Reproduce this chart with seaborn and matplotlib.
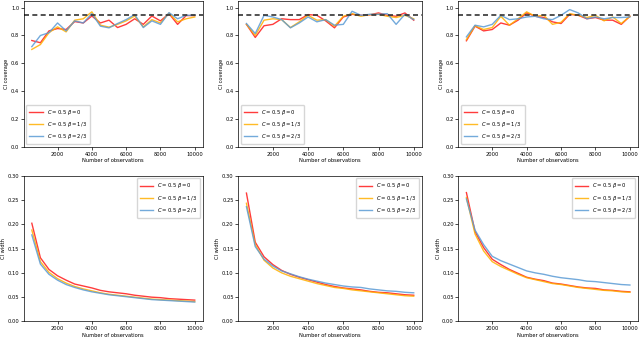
import numpy as np
import pandas as pd
import seaborn as sns
import matplotlib
matplotlib.use("Agg")
import matplotlib.pyplot as plt

n_obs = list(range(500, 10001, 500))
labels = [r"$C = 0.5\ \beta = 0$", r"$C = 0.5\ \beta = 1/3$", r"$C = 0.5\ \beta = 2/3$"]

# CI coverage (top row), one list per series
cov1_b0 = [0.764, 0.748, 0.833, 0.850, 0.843, 0.900, 0.890, 0.940, 0.890, 0.910, 0.857, 0.880, 0.920, 0.880, 0.940, 0.905, 0.957, 0.880, 0.943, 0.943]
cov1_b13 = [0.700, 0.735, 0.820, 0.862, 0.826, 0.910, 0.920, 0.970, 0.874, 0.860, 0.880, 0.905, 0.940, 0.862, 0.914, 0.890, 0.960, 0.898, 0.920, 0.933]
cov1_b23 = [0.720, 0.800, 0.820, 0.890, 0.833, 0.905, 0.890, 0.957, 0.867, 0.855, 0.886, 0.914, 0.950, 0.857, 0.905, 0.880, 0.964, 0.920, 0.945, 0.945]

cov2_b0 = [0.880, 0.786, 0.870, 0.880, 0.920, 0.914, 0.914, 0.950, 0.945, 0.905, 0.855, 0.933, 0.952, 0.945, 0.948, 0.962, 0.945, 0.938, 0.962, 0.910]
cov2_b13 = [0.880, 0.800, 0.910, 0.920, 0.914, 0.857, 0.898, 0.945, 0.910, 0.914, 0.867, 0.938, 0.957, 0.938, 0.950, 0.952, 0.938, 0.929, 0.945, 0.920]
cov2_b23 = [0.886, 0.814, 0.945, 0.933, 0.914, 0.855, 0.890, 0.933, 0.898, 0.914, 0.874, 0.880, 0.974, 0.945, 0.952, 0.952, 0.957, 0.880, 0.952, 0.914]

cov3_b0 = [0.762, 0.867, 0.833, 0.843, 0.890, 0.874, 0.910, 0.962, 0.938, 0.929, 0.898, 0.886, 0.952, 0.945, 0.920, 0.929, 0.910, 0.910, 0.880, 0.938]
cov3_b13 = [0.770, 0.870, 0.843, 0.857, 0.938, 0.874, 0.920, 0.970, 0.938, 0.945, 0.880, 0.895, 0.957, 0.945, 0.929, 0.945, 0.905, 0.933, 0.886, 0.938]
cov3_b23 = [0.790, 0.874, 0.862, 0.880, 0.945, 0.914, 0.920, 0.933, 0.938, 0.920, 0.914, 0.945, 0.986, 0.962, 0.920, 0.933, 0.920, 0.929, 0.929, 0.933]

# CI width (bottom row)
wid1_b0 = [0.202, 0.131, 0.107, 0.094, 0.085, 0.077, 0.073, 0.069, 0.064, 0.061, 0.059, 0.057, 0.054, 0.052, 0.050, 0.049, 0.047, 0.046, 0.045, 0.044]
wid1_b13 = [0.188, 0.123, 0.101, 0.088, 0.079, 0.072, 0.067, 0.063, 0.059, 0.056, 0.054, 0.052, 0.050, 0.048, 0.046, 0.045, 0.044, 0.043, 0.042, 0.041]
wid1_b23 = [0.178, 0.118, 0.097, 0.085, 0.076, 0.070, 0.065, 0.061, 0.058, 0.055, 0.053, 0.051, 0.049, 0.047, 0.045, 0.044, 0.043, 0.042, 0.041, 0.040]

wid2_b0 = [0.264, 0.163, 0.133, 0.117, 0.105, 0.097, 0.091, 0.086, 0.081, 0.076, 0.072, 0.069, 0.067, 0.065, 0.062, 0.060, 0.059, 0.057, 0.055, 0.054]
wid2_b13 = [0.243, 0.158, 0.126, 0.110, 0.100, 0.093, 0.088, 0.083, 0.078, 0.074, 0.070, 0.068, 0.065, 0.063, 0.061, 0.059, 0.057, 0.055, 0.053, 0.052]
wid2_b23 = [0.236, 0.154, 0.128, 0.114, 0.104, 0.098, 0.092, 0.087, 0.083, 0.079, 0.076, 0.073, 0.071, 0.070, 0.067, 0.065, 0.063, 0.062, 0.060, 0.059]

wid3_b0 = [0.265, 0.185, 0.152, 0.128, 0.117, 0.107, 0.099, 0.091, 0.087, 0.084, 0.079, 0.077, 0.074, 0.071, 0.069, 0.068, 0.065, 0.064, 0.062, 0.061]
wid3_b13 = [0.255, 0.180, 0.145, 0.123, 0.113, 0.105, 0.097, 0.090, 0.086, 0.082, 0.078, 0.076, 0.073, 0.070, 0.068, 0.066, 0.064, 0.063, 0.061, 0.060]
wid3_b23 = [0.252, 0.188, 0.158, 0.134, 0.125, 0.118, 0.111, 0.104, 0.100, 0.097, 0.093, 0.090, 0.088, 0.086, 0.083, 0.082, 0.080, 0.078, 0.076, 0.075]

coverage = [[cov1_b0, cov1_b13, cov1_b23], [cov2_b0, cov2_b13, cov2_b23], [cov3_b0, cov3_b13, cov3_b23]]
width = [[wid1_b0, wid1_b13, wid1_b23], [wid2_b0, wid2_b13, wid2_b23], [wid3_b0, wid3_b13, wid3_b23]]

palette = dict(zip(labels, ["#ff1a1a", "#ffb000", "#5b9bd5"]))

plt.rcParams["font.size"] = 3.7
plt.rcParams["axes.linewidth"] = 0.5
plt.rcParams["xtick.major.size"] = 2
plt.rcParams["ytick.major.size"] = 2
plt.rcParams["xtick.major.width"] = 0.5
plt.rcParams["ytick.major.width"] = 0.5
plt.rcParams["xtick.major.pad"] = 1.5
plt.rcParams["ytick.major.pad"] = 1.2
plt.rcParams["axes.labelpad"] = 1.0


def to_long(series):
    rows = []
    for lab, vals in zip(labels, series):
        for n, v in zip(n_obs, vals):
            rows.append({"n": n, "value": v, "setting": lab})
    return pd.DataFrame(rows)


fig = plt.figure(figsize=(6.4, 3.37), dpi=100)
lefts = [0.037, 0.372, 0.716]
widths = [0.280, 0.2875, 0.281]
leg_kw = dict(fontsize=3.8, handlelength=2.5, borderpad=0.6, labelspacing=0.6)

for i in range(3):
    # coverage
    ax = fig.add_axes([lefts[i], 0.564, widths[i], 0.434])
    sns.lineplot(data=to_long(coverage[i]), x="n", y="value", hue="setting",
                 palette=palette, ax=ax, linewidth=1.0, alpha=0.85)
    ax.axhline(0.95, color="#333333", linestyle="--", linewidth=1.2, dashes=(3, 2))
    ax.set_ylim(0, 1.05)
    ax.set_xticks([2000, 4000, 6000, 8000, 10000])
    ax.set_xlabel("Number of observations")
    ax.set_ylabel("CI coverage")
    ax.legend(loc="lower left", **leg_kw)

    # width
    ax = fig.add_axes([lefts[i], 0.046, widths[i], 0.433])
    sns.lineplot(data=to_long(width[i]), x="n", y="value", hue="setting",
                 palette=palette, ax=ax, linewidth=1.0, alpha=0.85)
    ax.set_ylim(0, 0.30)
    ax.set_yticks([0.0, 0.05, 0.10, 0.15, 0.20, 0.25, 0.30])
    ax.set_yticklabels(["0.00", "0.05", "0.10", "0.15", "0.20", "0.25", "0.30"])
    ax.set_xticks([2000, 4000, 6000, 8000, 10000])
    ax.set_xlabel("Number of observations")
    ax.set_ylabel("CI width")
    ax.legend(loc="upper right", **leg_kw)

fig.savefig("out.png", dpi=100)
